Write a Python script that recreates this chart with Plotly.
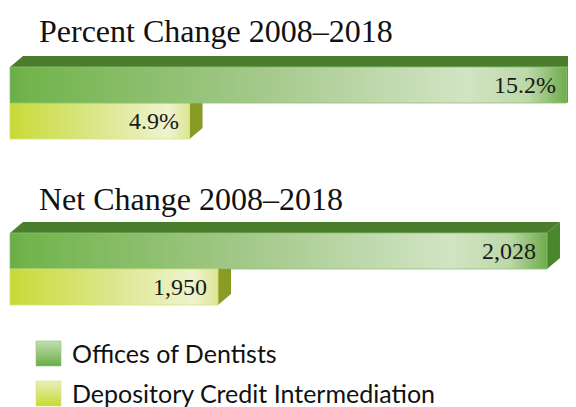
import plotly.graph_objects as go

# ---------------- data ----------------
series_names = ["Offices of Dentists", "Depository Credit Intermediation"]
percent_change = [15.2, 4.9]
net_change = [2028, 1950]
panel_titles = ["Percent Change 2008–2018", "Net Change 2008–2018"]

# ---------------- style ----------------
W, H = 576, 407
OFF = 8  # page body margin of the html page
FRONT_SCALES = [
    [[0, "#69ad46"], [0.03, "#72b44c"], [0.45, "#a4c98b"], [0.82, "#d2e4c4"],
     [0.93, "#bcd8a8"], [1, "#6fac4c"]],
    [[0, "#c4d82e"], [0.05, "#cadc40"], [0.5, "#dce78e"], [0.88, "#eef3cd"],
     [1, "#dbe594"]],
]
TOP_COLORS = ["#4a7d2c", "#8a9b25"]
SIDE_COLORS = ["#4a862d", "#8a9b25"]
EDGE_COLORS = ["#8fc275", "#d6e27a"]
SWATCH_SCALES = [
    [[0, "#69ae47"], [1, "#c3ddb1"]],
    [[0, "#c6d935"], [1, "#e9f0b8"]],
]
DX, DY = 13, 11          # 3D depth in pixels
BAR_H = 36
PANEL_FRONT_TOP = [67, 233]
TITLE_Y = [31, 199]
SERIF = "Liberation Serif"
SANS = "Lato"

fig = go.Figure()

# base ranges (window pixel 0..576); shifted below for the page margin
base_ranges = {
    "x": [-0.273, 15.447],      # panel 1 (both series)
    "x2": [-37.77, 2137.6],     # panel 2, dentists
    "x3": [-93.75, 5306.25],    # panel 2, depository
    "x4": [0, W],               # decorations (titles, legend)
}
x_axes = {}
for k, (r0, r1) in base_ranges.items():
    s = W / (r1 - r0)
    x_axes[k] = [r0 + OFF / s, r1 + OFF / s]

def scale_of(ax):
    r0, r1 = x_axes[ax]
    return W / (r1 - r0)

def poly(xs, ys, ax, **kw):
    fig.add_trace(go.Scatter(
        x=xs + [xs[0]], y=ys + [ys[0]], xaxis=ax, yaxis="y",
        mode="lines", fill="toself", hoverinfo="skip", showlegend=False, **kw))

panels = [
    (percent_change, ["x", "x"], lambda v: f"{v}%"),
    (net_change, ["x2", "x3"], lambda v: f"{v:,}"),
]

for p, (values, axes, fmt) in enumerate(panels):
    for i in [1, 0]:
        v = values[i]
        ax = axes[i]
        dx = DX / scale_of(ax)
        t = PANEL_FRONT_TOP[p] + i * BAR_H
        b = t + BAR_H
        if i == 0:
            # top face (only visible for the upper bar)
            poly([0, v, v + dx, dx], [t, t, t - DY, t - DY], ax,
                 fillcolor=TOP_COLORS[i], line=dict(width=0, color=TOP_COLORS[i]))
            poly([v, v + dx, v + dx, v], [t, t - DY, b - DY, b], ax,
                 fillcolor=SIDE_COLORS[i], line=dict(width=0, color=SIDE_COLORS[i]))
        else:
            # side face, tucked under the upper bar
            poly([v, v + dx, v + dx, v], [t, t, b - DY, b], ax,
                 fillcolor=SIDE_COLORS[i], line=dict(width=0, color=SIDE_COLORS[i]))
        # front face with gradient
        poly([0, v, v, 0], [t, t, b, b], ax,
             fillgradient=dict(type="horizontal", colorscale=FRONT_SCALES[i]),
             line=dict(width=0.8, color=EDGE_COLORS[i]))
        fig.add_annotation(x=v, y=(t + b) / 2, xref=ax, yref="y",
                           text=fmt(v), showarrow=False, xanchor="right",
                           yanchor="middle", xshift=-9,
                           font=dict(family=SERIF, size=24, color="#1a1a1a"))
    fig.add_annotation(x=37, y=TITLE_Y[p], xref="x4", yref="y",
                       text=panel_titles[p], showarrow=False, xanchor="left",
                       yanchor="middle",
                       font=dict(family=SERIF, size=32, color="#111111"))

# legend
LEG_Y = [341, 381]
for i, name in enumerate(series_names):
    y0 = LEG_Y[i]
    poly([36, 61, 61, 36], [y0, y0, y0 + 25, y0 + 25], "x4",
         fillgradient=dict(type="vertical", colorscale=SWATCH_SCALES[i]),
         line=dict(width=0.6, color=EDGE_COLORS[i]))
    fig.add_annotation(x=71, y=y0 + 12, xref="x4", yref="y", text=name,
                       showarrow=False, xanchor="left", yanchor="middle",
                       borderpad=0,
                       font=dict(family=SANS, size=25, color="#111111"))

axis_common = dict(visible=False, showgrid=False, zeroline=False,
                   domain=[0, 1], fixedrange=True)
fig.update_layout(
    width=W, height=H,
    margin=dict(l=0, r=0, t=0, b=0, pad=0),
    paper_bgcolor="white", plot_bgcolor="white",
    showlegend=False,
    xaxis=dict(range=x_axes["x"], anchor="y", **axis_common),
    xaxis2=dict(range=x_axes["x2"], overlaying="x", anchor="y", **axis_common),
    xaxis3=dict(range=x_axes["x3"], overlaying="x", anchor="y", **axis_common),
    xaxis4=dict(range=x_axes["x4"], overlaying="x", anchor="y", **axis_common),
    yaxis=dict(range=[H + OFF, OFF], visible=False, showgrid=False,
               zeroline=False, domain=[0, 1], fixedrange=True),
)

fig.write_html("out.html")
